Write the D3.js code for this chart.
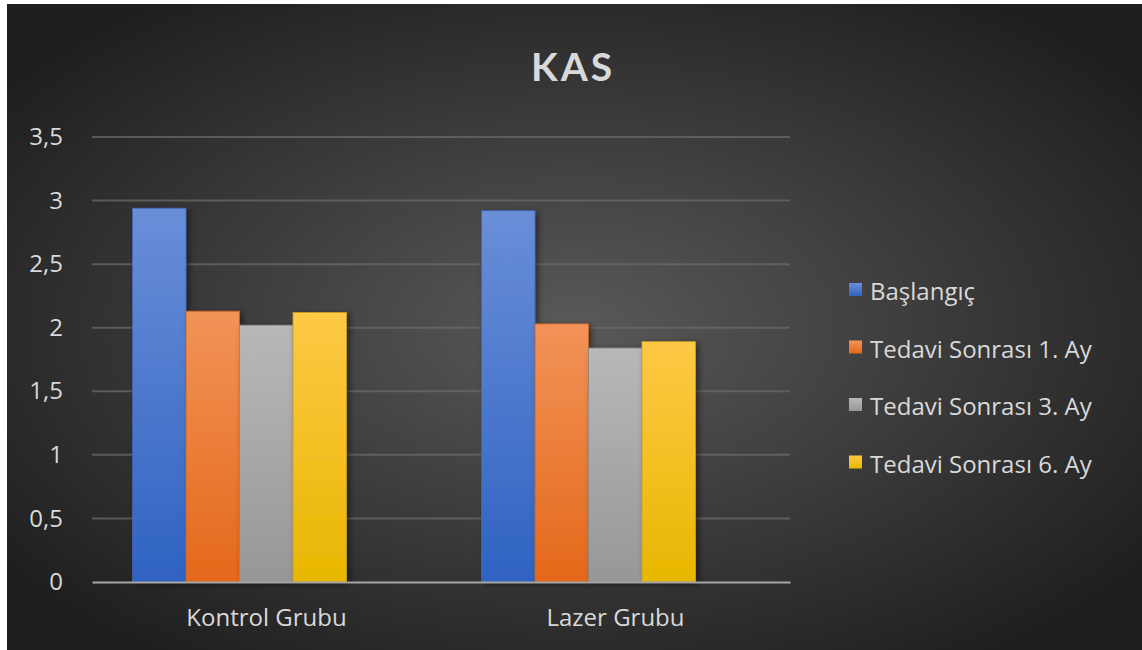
<!DOCTYPE html>
<html>
<head>
<meta charset="utf-8">
<script src="https://cdn.jsdelivr.net/npm/d3@7"></script>
<style>
  html, body { margin: 0; padding: 0; background: #ffffff; }
  svg { display: block; }
  text { font-family: "Open Sans", Lato, sans-serif; fill: #d9d9d9; }
</style>
</head>
<body>
<svg id="chart" width="1142" height="650"></svg>
<script>
// Chart data
const title = "KAS";
const categories = ["Kontrol Grubu", "Lazer Grubu"];
const seriesNames = ["Başlangıç", "Tedavi Sonrası 1. Ay", "Tedavi Sonrası 3. Ay", "Tedavi Sonrası 6. Ay"];
const baslangic = [2.94, 2.92];
const ay1 = [2.13, 2.03];
const ay3 = [2.02, 1.84];
const ay6 = [2.12, 1.89];
const seriesValues = [baslangic, ay1, ay3, ay6];
const yTicks = [0, 0.5, 1, 1.5, 2, 2.5, 3, 3.5];

// Fill gradients per series: [top, bottom, outline]
const seriesColors = [
  ["#6a8ed8", "#2f63c2", "#4066b4"],
  ["#f29358", "#e4681a", "#c86420"],
  ["#b8b8b8", "#979797", "#8c8c8c"],
  ["#ffc846", "#e8b700", "#c9a020"]
];

const FONT = "'Open Sans', Lato, sans-serif";
const FS = 24;

const svg = d3.select("#chart");
const defs = svg.append("defs");

// Dark radial background
const bg = defs.append("radialGradient").attr("id", "bg")
  .attr("cx", "50%").attr("cy", "50%").attr("r", "62%");
bg.append("stop").attr("offset", "0%").attr("stop-color", "#595959");
bg.append("stop").attr("offset", "100%").attr("stop-color", "#1f1f1f");

seriesColors.forEach((c, i) => {
  const g = defs.append("linearGradient").attr("id", "fill" + i)
    .attr("x1", 0).attr("y1", 0).attr("x2", 0).attr("y2", 1);
  g.append("stop").attr("offset", "0%").attr("stop-color", c[0]);
  g.append("stop").attr("offset", "100%").attr("stop-color", c[1]);
});

const shadow = defs.append("filter").attr("id", "shadow")
  .attr("x", "-20%").attr("y", "-10%").attr("width", "150%").attr("height", "130%");
shadow.append("feDropShadow").attr("dx", 3).attr("dy", 2)
  .attr("stdDeviation", 3).attr("flood-color", "#000").attr("flood-opacity", 0.45);

svg.append("rect").attr("x", 7).attr("y", 4).attr("width", 1135).attr("height", 646)
  .attr("fill", "url(#bg)");

// Scales
const plotLeft = 92, plotRight = 790, plotTop = 137, plotBottom = 582;
const y = d3.scaleLinear().domain([0, 3.5]).range([plotBottom, plotTop]);
const x0 = d3.scaleBand().domain(categories).range([plotLeft, plotRight]).padding(0);
const groupWidth = 214, groupShift = -27;
const x1 = d3.scaleBand().domain(seriesNames).range([0, groupWidth]).padding(0);

const locale = d3.formatLocale({ decimal: ",", thousands: ".", grouping: [3], currency: ["", "₺"] });
const fmt = v => locale.format("~g")(v);

// Gridlines
svg.append("g").selectAll("line").data(yTicks.filter(t => t > 0)).join("line")
  .attr("x1", plotLeft).attr("x2", plotRight)
  .attr("y1", d => y(d)).attr("y2", d => y(d))
  .attr("stroke", "#6a6a6a").attr("stroke-opacity", 0.75).attr("stroke-width", 2);

// Y axis labels
const yAxis = svg.append("g").attr("transform", `translate(${plotLeft},0)`)
  .call(d3.axisLeft(y).tickValues(yTicks).tickFormat(fmt).tickSize(0).tickPadding(29));
yAxis.select(".domain").remove();
yAxis.selectAll("text").attr("font-size", FS).attr("fill", "#d9d9d9")
  .style("font-family", FONT);

// Bars
const groups = svg.append("g").selectAll("g").data(categories).join("g")
  .attr("transform", d => `translate(${x0(d) + x0.bandwidth() / 2 - groupWidth / 2 + groupShift},0)`);
groups.selectAll("rect")
  .data((d, ci) => seriesNames.map((s, si) => ({ s, si, v: seriesValues[si][ci] })))
  .join("rect")
  .attr("x", d => x1(d.s))
  .attr("y", d => y(d.v))
  .attr("width", x1.bandwidth())
  .attr("height", d => y(0) - y(d.v))
  .attr("fill", d => `url(#fill${d.si})`)
  .attr("stroke", d => seriesColors[d.si][2])
  .attr("stroke-width", 0.8)
  .attr("filter", "url(#shadow)");

// X axis
const xAxis = svg.append("g").attr("transform", `translate(0,${plotBottom})`)
  .call(d3.axisBottom(x0).tickSize(0).tickPadding(27));
xAxis.select(".domain").attr("stroke", "#a6a6a6").attr("stroke-width", 2);
xAxis.selectAll("text").attr("font-size", FS).attr("fill", "#d9d9d9")
  .style("font-family", FONT);

// Title
svg.append("text").attr("x", 573).attr("y", 81).attr("text-anchor", "middle")
  .attr("font-size", 39).attr("font-weight", "bold").attr("letter-spacing", 3)
  .style("font-family", "Lato, 'Open Sans', sans-serif")
  .attr("fill", "#f2f2f2").text(title);

// Legend
const legend = svg.append("g").selectAll("g").data(seriesNames).join("g")
  .attr("transform", (d, i) => `translate(849,${283 + i * 57.5})`);
legend.append("rect").attr("width", 13).attr("height", 13)
  .attr("fill", (d, i) => `url(#fill${i})`);
legend.append("text").attr("x", 21).attr("y", 17).attr("font-size", FS)
  .style("font-family", FONT).text(d => d);
</script>
</body>
</html>
